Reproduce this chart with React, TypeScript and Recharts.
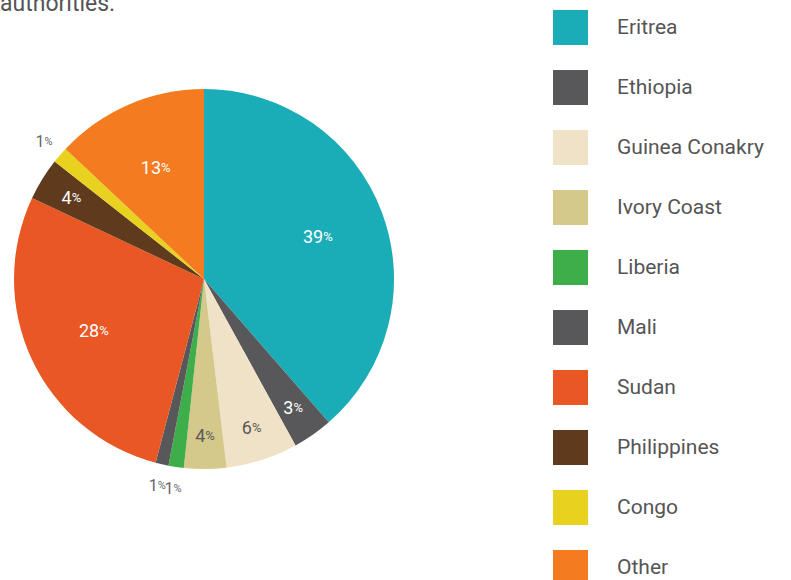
import { PieChart, Pie, Cell } from 'recharts'

const countries = [
  'Eritrea',
  'Ethiopia',
  'Guinea Conakry',
  'Ivory Coast',
  'Liberia',
  'Mali',
  'Sudan',
  'Philippines',
  'Congo',
  'Other',
]
const shares = [38.6, 3.4, 6.1, 3.6, 1.3, 1.1, 27.9, 3.6, 1.4, 13.0]
const colors = [
  '#1BADB7',
  '#58585A',
  '#F0E2C6',
  '#D4C98A',
  '#3DAE4A',
  '#58585A',
  '#E95725',
  '#603A1C',
  '#E8D11F',
  '#F47B20',
]
// labels drawn in grey on the pale slices
const darkText = ['Guinea Conakry', 'Ivory Coast']

const data = countries.map((name, i) => ({ name, value: shares[i] }))

const RAD = Math.PI / 180
const FONT = 'Roboto, "DejaVu Sans", sans-serif'

const renderLabel = (props: any) => {
  const { cx, cy, midAngle, outerRadius, value, name } = props
  let r = outerRadius * 0.64
  let fill = '#fff'
  let size = 18
  if (value < 2) {
    r = outerRadius + 21
    fill = '#666'
    size = 16
  } else if (value < 10) {
    r = outerRadius * 0.82
  }
  if (darkText.includes(name)) fill = '#5a5a5a'
  const x = cx + r * Math.cos(-midAngle * RAD)
  const y = cy + r * Math.sin(-midAngle * RAD)
  return (
    <text
      x={x}
      y={y}
      fill={fill}
      textAnchor="middle"
      dominantBaseline="central"
      fontFamily={FONT}
    >
      <tspan fontSize={size}>{Math.round(value)}</tspan>
      <tspan fontSize={size - 5}>%</tspan>
    </text>
  )
}

export default function App() {
  return (
    <div
      style={{
        position: 'absolute',
        left: 0,
        top: 0,
        width: 791,
        height: 580,
        overflow: 'hidden',
        background: '#fff',
      }}
    >
      <div
        style={{
          position: 'absolute',
          left: 0,
          top: -8,
          fontSize: 23,
          lineHeight: '24px',
          color: '#555',
          fontFamily: FONT,
        }}
      >
        authorities.
      </div>
      <PieChart
        width={540}
        height={580}
        margin={{ top: 0, right: 0, bottom: 0, left: 0 }}
      >
        <Pie
          data={data}
          dataKey="value"
          nameKey="name"
          cx={204}
          cy={279}
          outerRadius={190}
          startAngle={90}
          endAngle={-270}
          stroke="none"
          label={renderLabel}
          labelLine={false}
          isAnimationActive={false}
        >
          {data.map((d, i) => (
            <Cell key={d.name} fill={colors[i]} />
          ))}
        </Pie>
      </PieChart>
      <div style={{ position: 'absolute', left: 553, top: -3 }}>
        {countries.map((c, i) => (
          <div
            key={c}
            style={{ display: 'flex', alignItems: 'center', height: 60 }}
          >
            <div style={{ width: 35, height: 35, background: colors[i] }} />
            <span
              style={{
                marginLeft: 29,
                fontSize: 21,
                color: '#555',
                fontFamily: FONT,
                whiteSpace: 'nowrap',
              }}
            >
              {c}
            </span>
          </div>
        ))}
      </div>
    </div>
  )
}
